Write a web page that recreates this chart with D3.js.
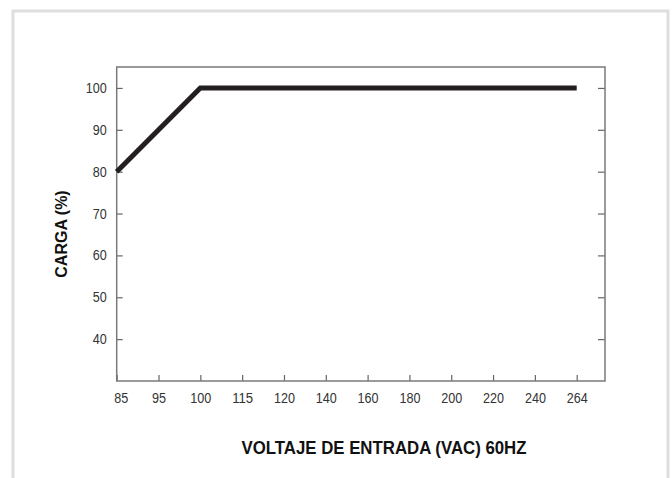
<!DOCTYPE html>
<html>
<head>
<meta charset="utf-8">
<script src="https://cdn.jsdelivr.net/npm/d3@7"></script>
<style>
  body { margin: 0; background: #fff; }
  svg { display: block; }
  .tick text { font-family: "Liberation Sans", Arial, sans-serif; font-size: 14px; fill: #333; }
</style>
</head>
<body>
<div id="chart"></div>
<script>
// data
const voltageLabels = ["85", "95", "100", "115", "120", "140", "160", "180", "200", "220", "240", "264"];
const loadTicks = [40, 50, 60, 70, 80, 90, 100];
const curveVoltage = ["85", "100", "264"];
const curveLoad = [80, 100, 100];

const W = 672, H = 478;
const frame = { left: 116.7, right: 605, top: 67, bottom: 381 };

const svg = d3.select("#chart")
    .append("svg")
    .attr("width", W)
    .attr("height", H);

// outer light border (open at the bottom)
svg.append("rect")
    .attr("x", 13)
    .attr("y", 11)
    .attr("width", 655)
    .attr("height", 500)
    .attr("fill", "none")
    .attr("stroke", "#dedede")
    .attr("stroke-width", 3);

// scales
const x = d3.scalePoint()
    .domain(voltageLabels)
    .range([116.7, 576.7]);

const y = d3.scaleLinear()
    .domain([30, 105])
    .range([frame.bottom, frame.top]);

// left axis
const gLeft = svg.append("g")
    .attr("transform", `translate(${frame.left},0)`)
    .call(d3.axisLeft(y).tickValues(loadTicks).tickSize(-6).tickPadding(10));

// right axis (ticks only)
const gRight = svg.append("g")
    .attr("transform", `translate(${frame.right},0)`)
    .call(d3.axisRight(y).tickValues(loadTicks).tickSize(-7).tickFormat(""));

// bottom axis
const gBottom = svg.append("g")
    .attr("transform", `translate(0,${frame.bottom})`)
    .call(d3.axisBottom(x).tickSize(-6).tickPadding(12));

[gLeft, gRight, gBottom].forEach(g => {
  g.select(".domain").remove();
  g.selectAll(".tick line").attr("stroke", "#666").attr("stroke-width", 1.2);
});

// condensed look for tick labels
gLeft.selectAll(".tick text").attr("textLength", d => String(d).length * 7).attr("lengthAdjust", "spacingAndGlyphs");
gBottom.selectAll(".tick text").attr("textLength", d => d.length * 7).attr("lengthAdjust", "spacingAndGlyphs");

// nudge first label off the frame
gBottom.selectAll(".tick text").filter(d => d === "85").attr("dx", 4);

// frame
svg.append("rect")
    .attr("x", frame.left)
    .attr("y", frame.top)
    .attr("width", frame.right - frame.left)
    .attr("height", frame.bottom - frame.top)
    .attr("fill", "none")
    .attr("stroke", "#7a7a7a")
    .attr("stroke-width", 1.5);

// load curve
const curve = curveVoltage.map((v, i) => ({ v: v, load: curveLoad[i] }));
svg.append("path")
    .datum(curve)
    .attr("fill", "none")
    .attr("stroke", "#231f20")
    .attr("stroke-width", 5)
    .attr("stroke-linejoin", "miter")
    .attr("d", d3.line()
        .x(d => x(d.v))
        .y(d => y(d.load))
    );

// axis titles
svg.append("text")
    .attr("transform", "translate(66.5,234) rotate(-90)")
    .attr("text-anchor", "middle")
    .style("font-family", "'Liberation Sans', Arial, sans-serif")
    .style("font-weight", "bold")
    .style("font-size", "16px")
    .attr("fill", "#111")
    .text("CARGA (%)");

svg.append("text")
    .attr("x", 384)
    .attr("y", 454)
    .attr("text-anchor", "middle")
    .attr("textLength", 285)
    .attr("lengthAdjust", "spacingAndGlyphs")
    .style("font-family", "'Liberation Sans', Arial, sans-serif")
    .style("font-weight", "bold")
    .style("font-size", "17.5px")
    .attr("fill", "#111")
    .text("VOLTAJE DE ENTRADA (VAC) 60HZ");
</script>
</body>
</html>
